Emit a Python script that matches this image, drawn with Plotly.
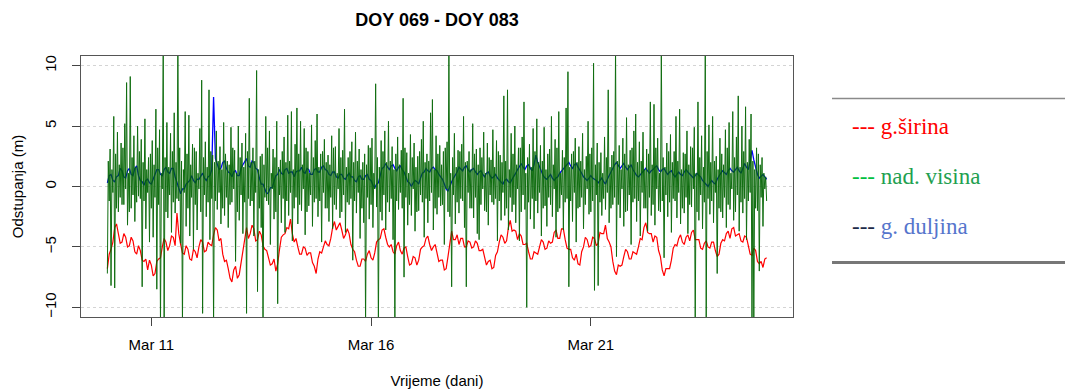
import pandas as pd
import plotly.graph_objects as go

# values (metres); red/blue hourly, green half-hourly
start = "2015-03-10 00:00"

sirina = [
    -6.8, -5.6, -5.2, -4.6, -3.4, -3.1, -3.9, -4.7, -4.6, -3.9, -4.2, -5.0, -4.9, -4.2, -4.5, -5.4,
    -5.6, -4.9, -5.3, -6.1, -6.2, -6.0, -6.9, -6.1, -6.5, -7.4, -7.2, -6.2, -6.0, -5.9, -5.0, -4.3,
    -4.6, -5.3, -4.9, -4.1, -4.2, -4.9, -2.2, -3.9, -4.8, -5.5, -5.6, -4.9, -5.2, -6.0, -6.1, -5.2,
    -5.4, -5.9, -5.0, -4.4, -4.6, -5.4, -5.3, -4.6, -4.8, -4.9, -4.0, -3.4, -3.6, -4.5, -4.3, -5.6,
    -6.2, -6.1, -6.8, -7.6, -7.9, -6.9, -6.6, -7.6, -7.3, -6.3, -5.4, -4.0, -3.4, -4.3, -3.9, -3.2,
    -3.5, -4.5, -4.4, -3.7, -4.0, -4.9, -5.2, -5.3, -5.9, -6.5, -6.4, -6.0, -7.0, -6.4, -5.2, -4.2,
    -4.0, -3.9, -3.4, -3.5, -2.7, -3.9, -4.6, -4.3, -5.0, -5.6, -5.6, -5.0, -5.1, -5.7, -5.5, -5.5,
    -6.3, -6.6, -7.2, -6.0, -5.4, -5.5, -5.0, -4.5, -4.8, -4.9, -4.3, -3.4, -2.9, -3.6, -3.3, -3.0,
    -3.6, -4.3, -4.0, -3.5, -3.9, -4.8, -5.2, -5.4, -6.1, -6.6, -6.6, -6.0, -6.0, -6.2, -5.6, -5.3,
    -5.9, -6.1, -5.5, -4.6, -4.4, -4.3, -3.6, -3.5, -4.2, -4.8, -5.0, -4.8, -5.4, -5.6, -4.9, -4.6,
    -5.3, -5.6, -5.1, -5.0, -5.8, -6.5, -6.4, -5.8, -5.9, -6.5, -6.1, -5.2, -5.0, -4.9, -4.3, -4.1,
    -4.8, -5.3, -5.0, -4.8, -5.5, -6.2, -6.1, -6.1, -6.9, -6.8, -5.8, -4.5, -3.7, -4.4, -4.4, -4.0,
    -4.8, -4.3, -4.3, -5.0, -5.0, -4.5, -4.6, -5.1, -5.0, -4.5, -4.7, -5.3, -5.3, -5.2, -5.9, -6.5,
    -6.2, -6.1, -6.8, -6.7, -5.7, -5.4, -4.6, -4.0, -4.2, -4.7, -4.5, -3.4, -2.8, -3.7, -3.6, -3.7,
    -4.4, -3.9, -4.1, -4.8, -4.8, -4.7, -5.4, -6.0, -6.0, -5.4, -5.5, -5.6, -5.0, -4.4, -4.6, -5.2,
    -5.1, -4.5, -4.7, -4.6, -3.8, -3.6, -4.3, -4.3, -3.5, -3.5, -4.4, -5.1, -5.2, -5.2, -5.9, -6.1,
    -5.6, -6.4, -6.5, -5.4, -5.0, -4.2, -4.4, -5.0, -4.9, -4.2, -4.3, -4.9, -4.7, -3.8, -3.9, -3.9,
    -3.2, -4.3, -4.6, -5.0, -6.2, -7.0, -7.3, -6.5, -6.6, -6.5, -5.8, -5.2, -5.4, -6.0, -6.0, -5.4,
    -5.5, -5.6, -5.0, -4.3, -4.4, -3.4, -3.0, -3.8, -3.9, -3.9, -4.6, -4.1, -4.2, -5.3, -5.8, -6.9,
    -7.4, -6.8, -6.8, -6.8, -6.1, -5.1, -4.8, -4.9, -4.3, -4.0, -4.6, -4.8, -4.2, -4.0, -4.5, -3.8,
    -3.6, -4.4, -4.4, -4.4, -5.1, -5.2, -4.7, -4.5, -5.0, -5.1, -4.6, -4.6, -5.3, -5.8, -5.6, -4.7,
    -4.4, -4.5, -3.9, -3.7, -4.3, -3.5, -3.4, -4.1, -4.0, -3.9, -4.5, -4.6, -4.1, -4.2, -4.9, -5.6,
    -5.7, -5.1, -5.3, -6.2, -6.4, -6.2, -6.7, -6.0, -5.9,
]

duljina = [
    0.3, 0.9, 1.0, 0.5, 0.4, 0.8, 0.9, 1.5, 1.3, 0.8, 0.7, 1.3, 1.5, 1.0, 0.9, 1.5,
    1.7, 0.9, 0.5, 0.4, 0.1, 0.5, 0.6, 0.3, 0.2, 0.7, 1.0, 1.4, 1.4, 1.0, 0.9, 1.4,
    1.6, 1.2, 1.1, 1.5, 1.5, 0.8, 0.3, -0.3, -0.6, -0.2, -0.2, 0.2, 0.4, 0.5, 0.9, 0.5,
    0.3, 0.6, 0.6, 0.9, 1.1, 0.7, 0.5, 0.8, 0.9, 1.4, 7.4, 2.3, 1.9, 1.4, 1.5, 2.0,
    2.1, 1.5, 1.2, 1.1, 0.8, 1.2, 1.3, 0.9, 0.9, 1.5, 1.8, 2.0, 2.3, 1.7, 1.6, 2.1,
    2.0, 1.5, 1.4, 0.7, 0.2, 0.2, -0.2, -0.6, -0.5, -0.1, -0.1, 0.5, 0.9, 1.0, 1.4, 1.1,
    1.0, 1.4, 1.5, 1.1, 1.2, 1.2, 0.8, 1.2, 1.3, 1.3, 1.6, 1.2, 1.1, 1.5, 1.4, 1.0,
    1.0, 1.4, 1.5, 1.2, 1.2, 1.6, 1.7, 1.4, 1.3, 1.0, 0.9, 1.2, 1.2, 0.8, 0.7, 1.0,
    1.0, 0.7, 0.6, 0.9, 1.1, 0.8, 0.8, 0.5, 0.4, 0.8, 0.9, 0.6, 0.6, 0.9, 1.0, 0.6,
    0.5, 0.1, -0.1, 0.2, 0.3, 0.9, 1.5, 1.6, 1.9, 1.6, 1.4, 1.7, 1.8, 1.5, 1.3, 1.6,
    1.7, 1.4, 1.2, 0.8, 0.4, 0.3, 0.0, 0.3, 0.5, 0.4, 0.2, 0.7, 1.1, 1.2, 1.5, 1.3,
    1.2, 1.5, 1.6, 1.4, 1.3, 1.0, 0.8, 0.6, 0.2, -0.2, -0.4, 0.1, 0.4, 0.7, 0.9, 1.2,
    1.6, 1.4, 1.3, 1.6, 1.7, 1.4, 1.2, 1.4, 1.5, 1.2, 1.0, 1.2, 1.3, 1.0, 0.8, 1.1,
    1.2, 0.9, 0.7, 0.8, 1.0, 0.7, 0.5, 0.4, 0.2, 0.5, 0.6, 0.4, 0.3, 0.6, 0.8, 1.1,
    1.4, 1.6, 1.9, 1.6, 1.4, 1.7, 1.8, 1.5, 1.3, 1.8, 2.6, 2.0, 1.6, 1.2, 0.9, 0.7,
    0.6, 0.8, 1.0, 0.7, 0.5, 0.7, 0.8, 1.1, 1.3, 1.5, 1.7, 1.8, 2.0, 1.7, 1.5, 1.8,
    1.9, 1.6, 1.4, 1.1, 0.8, 0.6, 0.5, 0.7, 0.9, 0.7, 0.6, 0.5, 0.3, 0.5, 0.7, 0.4,
    0.2, 0.6, 0.9, 1.3, 1.6, 1.8, 2.0, 1.7, 1.5, 1.7, 1.9, 1.6, 1.4, 1.6, 1.8, 1.4,
    1.1, 0.9, 0.8, 1.0, 1.2, 1.3, 1.5, 1.3, 1.1, 1.3, 1.4, 1.6, 1.7, 1.4, 1.2, 1.4,
    1.5, 1.2, 1.0, 1.2, 1.3, 1.0, 0.8, 1.0, 1.2, 1.0, 0.9, 1.2, 1.4, 1.2, 1.0, 0.9,
    0.7, 0.9, 1.1, 0.9, 0.8, 0.5, 0.3, 0.1, 0.0, 0.3, 0.5, 0.3, 0.2, 0.6, 0.9, 1.1,
    1.3, 1.1, 1.0, 1.3, 1.5, 1.3, 1.2, 1.4, 1.6, 1.3, 1.1, 1.5, 1.9, 1.6, 1.4, 2.1,
    3.0, 2.2, 1.6, 1.0, 0.7, 0.9, 1.0, 0.8, 0.6,
]

visina = [
    # Mar 10
    -7.2, 2.1, -1.2, 3.1, -8.2, 1.4, -0.5, 5.8, -8.4, 2.7, -1.8, 4.5, -2.1, 1.8, -0.9, 3.6,
    -1.5, 3.2, -1.5, 5.2, -0.2, 8.6, -3.2, 1.1, -2.1, 9.1, -1.8, 2.4, -0.7, 4.2, -2.9, 1.6,
    -1.3, 5.0, -0.8, 2.9, -1.0, 3.9, -8.3, 2.0, -1.2, 5.6, -3.5, 1.4, -0.5, 2.4, -4.6, 2.7,
    # Mar 11
    -1.8, 3.8, -4.2, 1.8, -0.9, 6.4, -8.5, 3.2, -1.5, 4.7, -11.5, 1.1, -0.2, 11.5, -11.5, 2.4,
    -2.1, 5.3, -2.6, 1.6, -0.7, 4.4, -3.8, 2.9, -1.3, 6.1, -2.2, 2.0, -1.0, 11.5, -1.2, 3.2,
    -4.7, 2.1, -11.5, 1.4, -0.5, 6.2, -3.3, 2.7, -1.8, 5.9, -4.1, 1.8, -0.9, 3.5, -5.2, 3.2,
    # Mar 12
    -1.5, 2.9, -3.6, 1.1, -0.2, 4.8, -2.1, 8.8, -10.5, 2.4, -0.7, 3.7, -2.5, 1.6, -1.3, 8.0,
    -4.4, 2.9, -1.0, 2.6, -11.5, 2.0, -1.2, 4.6, -1.9, 2.1, -0.5, 3.3, -3.1, 1.4, -1.8, 5.3,
    -2.4, 2.7, -0.9, 2.1, -3.4, 1.8, -1.5, 4.9, -1.3, 3.2, -0.2, 3.0, -6.2, 1.1, -2.1, 5.0,
    # Mar 13
    -2.8, 2.4, -0.7, 3.6, -3.9, 1.6, -1.3, 4.4, -10.5, 2.9, -1.0, 7.3, -1.6, 2.0, -1.2, 3.2,
    -4.1, 2.1, -0.5, 9.6, -8.7, 1.4, -1.8, 2.5, -3.4, 2.7, -10.8, 1.8, -0.9, 5.8, -1.2, 3.2,
    -1.5, 4.6, -4.8, 1.1, -0.2, 3.1, -2.7, 2.4, -2.1, 5.4, -9.7, 1.6, -0.7, 2.2, -3.0, 2.9,
    # Mar 14
    -1.0, 4.1, -3.8, 2.0, -1.2, 5.9, -2.4, 2.1, -0.5, 6.2, -4.5, 1.4, -1.8, 3.5, -0.9, 6.5,
    -3.1, 2.7, -1.5, 5.4, -2.0, 1.8, -0.2, 4.8, -4.0, 3.2, -2.1, 2.9, -1.6, 1.1, -0.7, 5.1,
    -3.3, 2.4, -1.3, 3.8, -1.0, 6.0, -2.5, 1.6, -1.2, 2.7, -4.6, 2.9, -0.5, 3.9, -1.8, 2.0,
    # Mar 15
    -1.8, 2.6, -2.9, 1.8, -0.9, 4.2, -3.5, 3.2, -1.5, 3.3, -1.9, 1.1, -0.2, 4.8, -2.6, 2.4,
    -2.1, 3.0, -0.7, 6.4, -3.8, 1.6, -1.3, 2.4, -1.5, 2.9, -1.0, 3.7, -6.1, 2.0, -1.2, 4.5,
    -2.2, 2.1, -0.5, 3.1, -4.3, 1.4, -1.8, 2.0, -3.0, 2.7, -11.5, 1.8, -0.9, 3.4, -2.7, 3.2,
    # Mar 16
    -1.5, 4.0, -3.4, 1.1, -0.2, 8.5, -1.7, 2.4, -11.5, 1.6, -2.1, 3.8, -2.8, 2.9, -0.7, 4.6,
    -3.6, 2.0, -1.3, 5.4, -2.1, 2.1, -1.0, 3.3, -4.4, 1.4, -11.5, 2.7, -1.2, 4.1, -1.9, 1.8,
    -0.5, 3.0, -1.8, 7.3, -7.5, 3.2, -0.9, 2.8, -3.2, 1.1, -1.5, 4.3, -2.4, 2.4, -0.2, 3.6,
    # Mar 17
    -3.7, 1.6, -2.1, 2.5, -2.0, 2.9, -0.7, 3.9, -1.3, 5.4, -4.2, 2.0, -1.0, 2.7, -3.0, 2.1,
    -1.2, 6.1, -0.5, 7.2, -3.6, 1.4, -1.8, 4.2, -2.3, 2.7, -0.9, 3.4, -1.6, 1.8, -1.5, 2.9,
    -4.8, 3.2, -0.2, 3.7, -2.1, 11.0, -2.5, 1.1, -8.3, 2.4, -0.7, 4.4, -3.1, 1.6, -1.3, 3.0,
    # Mar 18
    -2.2, 2.9, -1.0, 3.5, -1.2, 5.8, -3.4, 2.0, -8.3, 2.1, -0.5, 2.9, -1.8, 1.4, -1.8, 5.2,
    -2.6, 2.7, -0.9, 3.1, -3.9, 1.8, -4.4, 3.2, -1.5, 2.4, -0.2, 4.5, -2.0, 1.1, -2.1, 3.6,
    -3.2, 2.4, -0.7, 2.2, -1.3, 4.7, -1.5, 1.6, -1.0, 3.8, -4.5, 2.9, -1.2, 2.6, -2.8, 2.0,
    # Mar 19
    -0.5, 7.5, -2.4, 2.1, -1.8, 8.0, -3.6, 1.4, -0.9, 4.4, -2.1, 2.7, -1.5, 5.0, -3.0, 1.8,
    -0.2, 3.2, -4.5, 3.2, -2.1, 4.1, -0.7, 7.0, -1.9, 1.1, -10.0, 2.4, -1.3, 3.5, -2.7, 1.6,
    -1.0, 4.8, -3.5, 2.9, -1.2, 5.6, -2.2, 2.0, -0.5, 3.4, -4.1, 2.1, -1.8, 4.9, -1.6, 1.4,
    # Mar 20
    -3.3, 2.7, -0.9, 3.1, -1.5, 5.8, -2.5, 1.8, -0.2, 3.9, -4.2, 3.2, -2.1, 6.2, -1.8, 1.1,
    -0.7, 3.0, -3.6, 2.4, -1.3, 6.5, -1.0, 9.5, -8.3, 1.6, -1.2, 2.7, -2.9, 2.9, -0.5, 4.0,
    -4.6, 2.0, -1.8, 3.3, -1.7, 2.1, -0.9, 4.4, -3.5, 1.4, -1.5, 2.5, -0.2, 5.4, -2.3, 2.7,
    # Mar 21
    -2.1, 3.2, -1.2, 10.2, -8.6, 1.8, -0.7, 3.6, -8.2, 2.0, -1.3, 2.8, -2.4, 1.1, -1.0, 4.1,
    -1.9, 2.4, -0.5, 8.0, -3.0, 1.6, -1.8, 2.6, -1.5, 2.9, -0.9, 11.5, -5.8, 2.1, -1.5, 3.4,
    -2.6, 1.4, -0.2, 4.0, -3.3, 2.7, -2.1, 5.7, -2.0, 1.8, -0.7, 3.0, -4.8, 3.2, -1.3, 4.6,
    # Mar 22
    -1.0, 6.0, -2.9, 2.0, -1.2, 3.7, -4.1, 2.1, -0.5, 4.5, -1.8, 1.4, -1.8, 3.1, -3.7, 2.7,
    -0.9, 7.0, -2.4, 1.8, -1.5, 6.8, -3.2, 3.2, -0.2, 4.0, -2.0, 1.1, -2.1, 11.5, -1.2, 2.4,
    -5.9, 1.6, -0.7, 3.6, -2.5, 2.9, -1.3, 4.3, -3.8, 2.0, -1.0, 2.9, -1.2, 5.8, -2.6, 2.1,
    # Mar 23
    -0.5, 6.4, -3.1, 1.4, -1.8, 2.8, -2.2, 2.7, -0.9, 4.6, -3.9, 1.8, -1.5, 3.3, -1.7, 3.2,
    -0.2, 4.9, -11.5, 1.1, -2.1, 7.0, -2.8, 2.4, -0.7, 4.2, -3.5, 1.6, -1.3, 11.5, -11.5, 2.9,
    -1.0, 5.1, -2.3, 2.0, -1.2, 5.8, -3.0, 2.1, -0.5, 2.5, -7.2, 1.4, -1.8, 4.0, -2.1, 2.7,
    # Mar 24
    -2.6, 1.8, -0.9, 4.7, -3.4, 3.2, -1.5, 5.3, -1.9, 1.1, -0.2, 6.2, -2.8, 2.4, -2.1, 4.1,
    -0.7, 7.5, -3.7, 1.6, -1.3, 5.0, -2.2, 2.9, -1.0, 6.6, -4.4, 2.0, -1.2, 3.9, -0.5, 6.0,
    -11.5, 2.1, -11.5, 1.4, -1.8, 3.2, -2.0, 2.7, -7.0, 1.8, -0.9, 2.4, -3.3, 1.1, -0.2, 0.8,
    -1.2,
]

tick_days = ["2015-03-11", "2015-03-16", "2015-03-21"]
tick_labels = ["Mar 11", "Mar 16", "Mar 21"]
x_range = ["2015-03-09 09:36", "2015-03-25 14:24"]

t_h = pd.date_range(start, periods=len(sirina), freq="h")
t_b = pd.date_range(start, periods=len(duljina), freq="h")
t_g = pd.date_range(start, periods=len(visina), freq="30min")

fig = go.Figure()
fig.add_trace(go.Scatter(x=t_h, y=sirina, mode="lines", line=dict(color="#ff0000", width=1.2)))
fig.add_trace(go.Scatter(x=t_b, y=duljina, mode="lines", line=dict(color="#0000ff", width=1.3)))
fig.add_trace(go.Scatter(x=t_g, y=visina, mode="lines", opacity=0.93,
                         line=dict(color="#006400", width=1)))

axfont = dict(family="Liberation Sans, Arial", size=15, color="#000")
gridc = "#d4d4d4"
fig.update_layout(
    xaxis=dict(
        type="date", range=x_range, automargin=False,
        tickmode="array", tickvals=tick_days, ticktext=tick_labels,
        ticks="outside", ticklen=8, tickcolor="#444", tickfont=axfont, ticklabelstandoff=6,
        showgrid=False, zeroline=False,
        showline=True, mirror=True, linecolor="#555", linewidth=1,
        title=dict(text="Vrijeme (dani)", font=axfont, standoff=25),
    ),
    # second x axis only carries the dotted vertical grid (R grid() spacing)
    xaxis2=dict(
        type="date", range=x_range, overlaying="x", automargin=False,
        tickmode="linear", tick0="2015-03-10 16:35", dtick=200000000,
        showticklabels=False, ticks="", showline=False, zeroline=False,
        showgrid=True, gridcolor=gridc, griddash="dot", gridwidth=1, layer="below traces",
    ),
    yaxis=dict(
        range=[-10.8, 10.8], tickvals=[-10, -5, 0, 5, 10], tickangle=-90, automargin=False,
        ticks="outside", ticklen=8, tickcolor="#444", tickfont=axfont, ticklabelstandoff=10,
        showgrid=True, gridcolor=gridc, griddash="dot", gridwidth=1, zeroline=False,
        showline=True, mirror=True, linecolor="#555", linewidth=1,
        title=dict(text="Odstupanja (m)", font=axfont, standoff=14),
    ),
)

leg = dict(family="Liberation Serif, Times New Roman", size=23)
entries = [
    ('<span style="color:#ff0000">--- g.širina</span>', 0.728),
    ('<span style="color:#00c040">---</span><span style="color:#22a050"> nad. visina</span>', 0.540),
    ('<span style="color:#1c2a48">---</span><span style="color:#5575cc"> g. duljina</span>', 0.345),
]
for txt, yy in entries:
    fig.add_annotation(text=txt, xref="paper", yref="paper", x=1.080, y=yy,
                       xanchor="left", yanchor="middle", showarrow=False, font=leg)
fig.add_shape(type="line", xref="paper", yref="paper", x0=1.0548, x1=1.40, y0=0.837, y1=0.837,
              line=dict(color="#8a8a8a", width=1.5))
fig.add_shape(type="line", xref="paper", yref="paper", x0=1.0548, x1=1.40, y0=0.2088, y1=0.2088,
              line=dict(color="#777777", width=3))

fig.update_layout(
    width=1065, height=389,
    margin=dict(l=81, r=272, t=56, b=72, autoexpand=False),
    plot_bgcolor="white", paper_bgcolor="white",
    showlegend=False,
    title=dict(text="<b>DOY 069 - DOY 083</b>", x=0.5, xref="paper", y=0.949, yanchor="middle",
               font=dict(family="Liberation Sans, Arial", size=18, color="#000")),
)

fig.write_html("out.html", config={"displayModeBar": False},
               post_script="document.body.style.margin='0px';")
